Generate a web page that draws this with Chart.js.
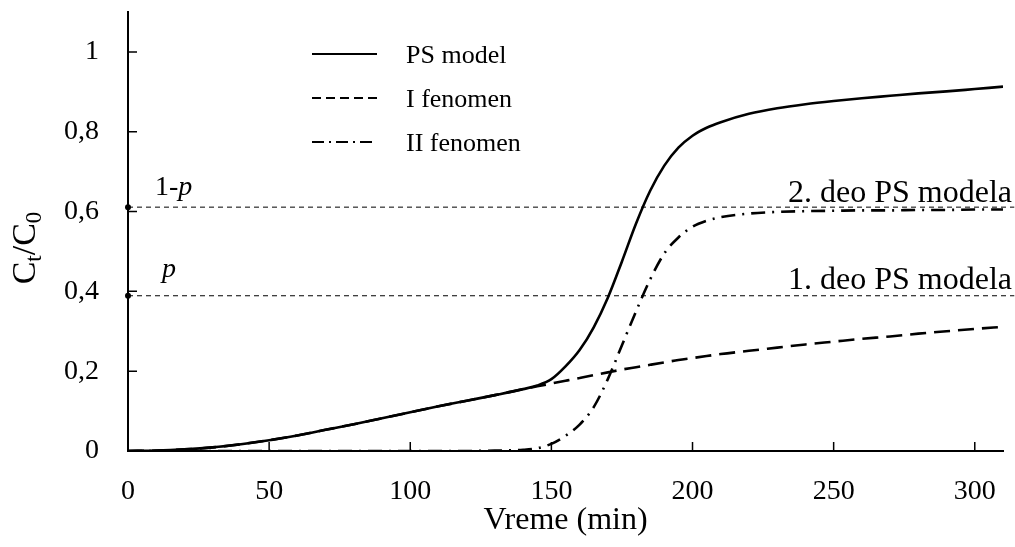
<!DOCTYPE html>
<html>
<head>
<meta charset="utf-8">
<script src="https://cdn.jsdelivr.net/npm/chart.js@4.4.1/dist/chart.umd.min.js"></script>
<style>
  body { margin: 0; background: #fff; }
  canvas { display: block; }
</style>
</head>
<body>
<canvas id="chart" width="1015" height="547"></canvas>
<script>
// values
const time = [0, 10, 20, 30, 40, 50, 60, 70, 80, 90, 100, 110, 120, 130, 140, 145, 150, 155, 160, 165,
              170, 175, 180, 185, 190, 195, 200, 205, 210, 220, 230, 240, 250, 260, 270, 280, 290, 300, 310];
const psModel = [0, 0.001, 0.004, 0.009, 0.017, 0.027, 0.039, 0.053, 0.067, 0.082, 0.097, 0.112, 0.126, 0.140, 0.155, 0.164, 0.180, 0.212, 0.253, 0.310,
                 0.384, 0.475, 0.570, 0.652, 0.715, 0.760, 0.790, 0.810, 0.824, 0.845, 0.859, 0.869, 0.877, 0.884, 0.890, 0.896, 0.901, 0.907, 0.913];
const fenomenI = [0, 0.001, 0.004, 0.009, 0.017, 0.027, 0.039, 0.053, 0.067, 0.082, 0.097, 0.112, 0.126, 0.140, 0.155, 0.162, 0.169, 0.176, 0.183, 0.190,
                  0.197, 0.204, 0.210, 0.216, 0.222, 0.228, 0.233, 0.238, 0.243, 0.251, 0.259, 0.267, 0.274, 0.281, 0.287, 0.294, 0.300, 0.306, 0.311];
const fenomenII = [0, 0, 0, 0, 0, 0, 0, 0, 0, 0, 0, 0, 0, 0.001, 0.003, 0.007, 0.018, 0.038, 0.066, 0.110,
                   0.180, 0.265, 0.350, 0.430, 0.495, 0.535, 0.562, 0.577, 0.586, 0.595, 0.599, 0.601, 0.602, 0.603, 0.603, 0.604, 0.604, 0.605, 0.605];
const pLevel = 0.389;
const onePLevel = 0.611;
const levelX = [0, 314];
const xTicks = [0, 50, 100, 150, 200, 250, 300];
const yTicks = [0, 0.2, 0.4, 0.6, 0.8, 1];
const yTickLabels = ['0', '0,2', '0,4', '0,6', '0,8', '1'];
const seriesNames = ['PS model', 'I fenomen', 'II fenomen'];
const levelNames = ['1. deo PS modela', '2. deo PS modela'];

const serif = '"Liberation Serif", "Times New Roman", serif';
const toPoints = ys => time.map((t, i) => ({ x: t, y: ys[i] }));
const levelLine = v => levelX.map(x => ({ x: x, y: v }));

const curve = (label, ys, dash) => ({
    label: label,
    data: toPoints(ys),
    borderColor: '#000',
    borderWidth: 2.6,
    borderDash: dash,
    pointRadius: 0,
    cubicInterpolationMode: 'monotone',
    fill: false
});
const level = (label, v) => ({
    label: label,
    data: levelLine(v),
    borderColor: '#000',
    borderWidth: 1,
    borderDash: [5, 4],
    pointRadius: [3, 0],
    pointBackgroundColor: '#000',
    pointBorderWidth: 0,
    clip: false
});

const decor = {
    id: 'decor',
    afterDraw(chart) {
        const { ctx, chartArea: a, scales: { x, y } } = chart;
        ctx.save();
        ctx.strokeStyle = '#000';
        ctx.fillStyle = '#000';

        // ticks point inward
        ctx.lineWidth = 1.5;
        ctx.beginPath();
        xTicks.slice(1).forEach(v => {
            const px = x.getPixelForValue(v);
            ctx.moveTo(px, a.bottom);
            ctx.lineTo(px, a.bottom - 9);
        });
        yTicks.slice(1).forEach(v => {
            const py = y.getPixelForValue(v);
            ctx.moveTo(a.left, py);
            ctx.lineTo(a.left + 9, py);
        });
        ctx.stroke();

        // legend
        const legendDash = [[], [9, 5], [12, 5, 2, 5]];
        ctx.font = '26px ' + serif;
        ctx.textAlign = 'left';
        ctx.textBaseline = 'alphabetic';
        seriesNames.forEach((name, i) => {
            const ly = 54 + i * 44;
            ctx.lineWidth = 2;
            ctx.setLineDash(legendDash[i]);
            ctx.beginPath();
            ctx.moveTo(312, ly);
            ctx.lineTo(377, ly);
            ctx.stroke();
            ctx.setLineDash([]);
            ctx.fillText(name, 406, ly + 8.5);
        });

        // level labels
        ctx.font = '32px ' + serif;
        ctx.textAlign = 'right';
        ctx.fillText(levelNames[1], 1012, y.getPixelForValue(onePLevel) - 5);
        ctx.fillText(levelNames[0], 1012, y.getPixelForValue(pLevel) - 7);

        ctx.textAlign = 'left';
        ctx.font = '28px ' + serif;
        ctx.fillText('1-', 155, 195);
        const w = ctx.measureText('1-').width;
        ctx.font = 'italic 28px ' + serif;
        ctx.fillText('p', 155 + w, 195);
        ctx.fillText('p', 162, 277);

        // y title C_t/C_0
        const parts = [['C', 34, 0], ['t', 23, 6], ['/', 34, 0], ['C', 34, 0], ['0', 23, 6]];
        let total = 0;
        parts.forEach(p => { ctx.font = p[1] + 'px ' + serif; total += ctx.measureText(p[0]).width; });
        ctx.translate(35, 248);
        ctx.rotate(-Math.PI / 2);
        let cx = -total / 2;
        parts.forEach(p => {
            ctx.font = p[1] + 'px ' + serif;
            ctx.fillText(p[0], cx, p[2]);
            cx += ctx.measureText(p[0]).width;
        });
        ctx.restore();
    }
};

new Chart(document.getElementById('chart').getContext('2d'), {
    type: 'line',
    data: {
        datasets: [
            curve(seriesNames[0], psModel, []),
            curve(seriesNames[1], fenomenI, [16, 8]),
            curve(seriesNames[2], fenomenII, [14, 7, 2, 7]),
            level(levelNames[0], pLevel),
            level(levelNames[1], onePLevel)
        ]
    },
    options: {
        responsive: false,
        animation: false,
        layout: { padding: { top: 12, right: 12, left: 0, bottom: 0 } },
        plugins: { legend: { display: false }, tooltip: { enabled: false } },
        scales: {
            x: {
                type: 'linear',
                min: 0,
                max: 310,
                afterFit: s => { s.height = 96; s.paddingLeft = 0; s.paddingRight = 0; },
                afterBuildTicks: s => { s.ticks = xTicks.map(v => ({ value: v })); },
                grid: { display: false, drawTicks: false },
                border: { display: true, color: '#000', width: 2 },
                ticks: { color: '#000', padding: 24, maxRotation: 0, font: { family: serif, size: 28 } },
                title: { display: true, text: 'Vreme (min)', color: '#000',
                         font: { family: serif, size: 32 }, padding: { top: 0, bottom: 7 } }
            },
            y: {
                min: 0,
                max: 1.1,
                afterFit: s => { s.width = 128; s.paddingTop = 0; s.paddingBottom = 0; },
                afterBuildTicks: s => { s.ticks = yTicks.map(v => ({ value: v })); },
                grid: { display: false, drawTicks: false },
                border: { display: true, color: '#000', width: 2 },
                ticks: { color: '#000', padding: 29, font: { family: serif, size: 28 },
                         callback: v => yTickLabels[yTicks.indexOf(v)] }
            }
        }
    },
    plugins: [decor]
});
</script>
</body>
</html>
